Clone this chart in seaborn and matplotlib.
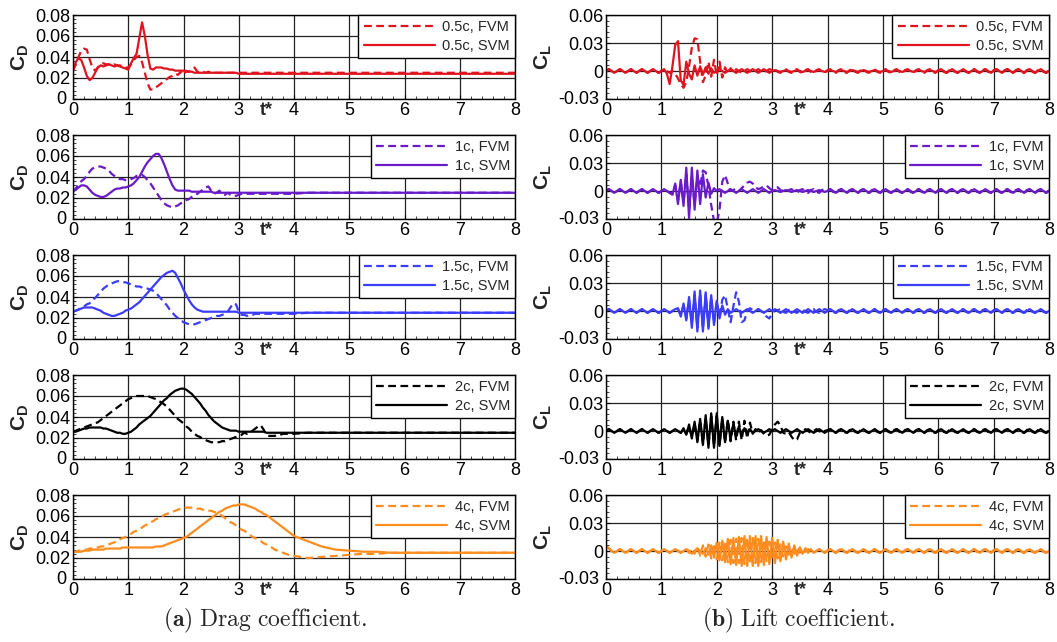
import numpy as np
import matplotlib
matplotlib.use("Agg")
import matplotlib.pyplot as plt
from matplotlib.ticker import MultipleLocator
from matplotlib.transforms import ScaledTranslation
import seaborn as sns

# ---------------- data (values in units of 1e-3) ----------------
cases = ["0.5c", "1c", "1.5c", "2c", "4c"]
colors = ["#e0141e", "#6a1ac8", "#3c3cff", "#000000", "#ff8c1e"]
x_ticks = [0, 1, 2, 3, 4, 5, 6, 7, 8]
cd_ticks = [0, 0.02, 0.04, 0.06, 0.08]
cd_tick_labels = ["0", "0.02", "0.04", "0.06", "0.08"]
cl_ticks = [-0.03, 0, 0.03, 0.06]
cl_tick_labels = ["-0.03", "0", "0.03", "0.06"]

# drag sample times: 0..4 every 0.05, then 4.25..8 every 0.25
t_drag = np.concatenate([np.arange(81) * 0.05, 4.0 + np.arange(1, 17) * 0.25])
# lift sample times: 0..8 every 0.05
t_lift = np.arange(161) * 0.05

cd_svm_05 = [27,35,39,37,30,22,18,20,25,30,32,31,32,33,32,31,32,31,30,29,
             28,34,39,43,58,73,60,42,29,28,30,30,30,29,29,28,28,27,27,27,
             27,26,26,26,25,25,25,25,25,25,25,25,25,25,25,25,25,25,25,25,
             24,24,24,24,24,24,24,24,24,24,24,24,24,24,24,24,24,24,24,24,
             24,
             24,24,24,24,24,24,24,24,24,24,24,24,24,24,24,24]
cd_fvm_05 = [27,33,40,46,48,47,38,30,27,30,33,34,33,33,32,33,32,32,31,30,
             30,33,37,40,41,35,25,15,9,9,11,13,15,17,19,21,22,24,23,26,
             23,27,26,29,30,26,25,26,25,26,25,25,25,25,25,25,25,25,25,25,
             25,25,25,25,25,25,25,25,25,25,25,25,25,25,25,25,25,25,25,25,
             25,
             25,25,25,25,25,25,25,25,25,25,25,25,25,25,25,25]
cd_svm_1 = [26,28,30,32,32,31,28,25,23,22,21,21,22,24,26,28,29,29,30,30,
            31,32,34,37,40,45,50,54,57,60,62,62,58,52,45,38,32,28,27,27,
            27,27,27,26,26,26,26,26,26,26,26,25,25,25,25,25,25,25,25,25,
            25,25,25,25,25,25,25,25,25,25,25,25,25,25,25,25,25,25,25,25,
            25,
            25,25,25,25,25,25,25,25,25,25,25,25,25,25,25,25]
cd_fvm_1 = [26,29,33,36,38,41,45,48,49,50,50,49,48,46,43,41,39,38,38,37,
            37,38,39,41,42,42,40,37,34,30,26,22,18,15,13,12,11,12,13,15,
            16,18,19,21,22,24,26,28,30,31,27,24,25,27,24,23,25,23,22,22,
            23,24,24,24,24,24,24,24,24,24,24,24,24,24,24,24,24,24,24,24,
            24,
            25,25,25,25,25,25,25,25,25,25,25,25,25,25,25,25]
cd_svm_15 = [26,27,28,29,30,30,30,30,29,28,27,25,24,23,22,22,23,24,25,27,
             28,29,31,33,35,38,41,44,47,50,53,56,59,61,63,64,65,63,58,53,
             47,42,37,33,30,28,27,26,26,26,26,26,26,26,26,26,26,26,26,26,
             25,25,25,25,25,25,25,25,25,25,25,25,25,25,25,25,25,25,25,25,
             25,
             25,25,25,25,25,25,25,25,25,25,25,25,25,25,25,25]
cd_fvm_15 = [26,27,28,30,31,33,34,37,39,42,45,48,50,52,53,54,55,55,54,54,
             53,52,51,50,50,49,48,48,47,46,44,41,38,35,32,28,25,22,20,18,
             16,15,14,14,14,15,16,17,18,19,20,21,22,22,23,24,26,30,34,33,
             26,23,23,22,23,23,24,24,24,24,24,24,24,24,24,24,24,24,24,24,
             24,
             25,25,25,25,25,25,25,25,25,25,25,25,25,25,25,25]
cd_svm_2 = [26,26,27,28,29,29,30,30,30,30,30,29,29,28,27,26,25,25,24,24,
            25,26,28,30,33,35,37,39,41,44,47,50,53,56,58,61,63,65,66,67,
            67,66,64,62,59,56,53,49,46,42,39,36,34,32,30,29,28,27,27,27,
            26,26,26,26,26,26,26,26,26,26,25,25,25,25,25,25,25,25,25,25,
            25,
            25,25,25,25,25,25,25,25,25,25,25,25,25,25,25,25]
cd_fvm_2 = [26,27,28,29,30,31,32,33,34,35,37,39,41,43,45,47,49,51,53,55,
            57,58,59,60,60,60,60,60,59,58,57,55,54,52,50,47,44,41,38,36,
            34,31,29,26,24,22,21,19,18,17,16,16,16,16,17,17,18,19,20,21,
            22,23,25,24,25,27,29,31,32,28,23,22,22,22,23,23,24,24,24,24,
            24,
            25,25,25,25,25,25,25,25,25,25,25,25,25,25,25,25]
cd_svm_4 = [26,26,26,26,27,27,27,28,28,28,28,28,29,29,29,29,29,29,30,30,
            30,30,30,30,30,30,30,30,30,30,31,31,31,32,33,34,35,36,37,38,
            39,40,42,44,46,48,50,52,54,56,58,60,62,64,65,67,68,69,70,70,
            71,71,71,70,69,68,67,65,64,62,61,59,57,55,53,51,49,47,45,43,
            41,
            36,31,28,27,26,26,25,25,25,25,25,25,25,25,25,25]
cd_fvm_4 = [26,26,27,27,28,28,29,29,30,30,31,31,32,33,34,35,36,38,39,40,
            42,43,45,46,48,49,51,52,54,55,57,58,59,61,62,63,64,65,66,67,
            67,68,68,68,68,67,67,66,66,65,65,64,63,62,60,58,56,54,53,51,
            49,47,46,44,42,40,39,37,36,34,33,31,30,28,27,26,25,24,23,22,
            22,
            20,21,22,23,24,24,25,25,25,25,25,25,25,25,25,25]

cl_svm_05 = [-1,2,0,-2,0,2,0,-2,0,2,0,-2,0,2,0,-2,0,2,0,-2,
             0,2,-3,-14,5,28,32,-10,-15,10,-3,-9,6,-5,5,-4,4,-3,3,-2,
             0,2,0,-2,0,2,0,-2,0,2,0,-2,0,2,0,-2,0,2,0,-2,
             0,1,0,-1,0,1,0,-1,0,1,0,-1,0,1,0,-1,0,1,0,-1,
             0,1,0,-1,0,1,0,-1,0,1,0,-1,0,1,0,-1,0,1,0,-1,
             0,1,0,-1,0,1,0,-1,0,1,0,-1,0,1,0,-1,0,1,0,-1,
             0,2,0,-2,0,2,0,-2,0,2,0,-2,0,2,0,-2,0,2,0,-2,
             0,2,0,-2,0,2,0,-2,0,2,0,-2,0,2,0,-2,0,2,0,-2,
             0]
cl_fvm_05 = [0,2,0,-2,0,2,0,-2,0,2,0,-2,0,2,0,-2,0,2,0,-2,
             0,2,0,-2,0,-3,-8,-14,-18,-12,5,25,35,34,10,-12,-5,10,-6,12,
             -5,10,-7,4,-3,3,-2,2,0,-2,0,2,0,-2,0,2,0,-2,0,2,
             1,2,-1,-2,1,2,-1,-2,1,2,-1,-2,1,2,-1,-2,1,2,-1,-2,
             1,2,-1,-2,1,2,-1,-2,1,2,-1,-2,1,2,-1,-2,1,2,-1,-2,
             1,2,-1,-2,1,2,-1,-2,1,2,-1,-2,1,2,-1,-2,1,2,-1,-2,
             1,2,-1,-2,1,2,-1,-2,1,2,-1,-2,1,2,-1,-2,1,2,-1,-2,
             1,2,-1,-2,1,2,-1,-2,1,2,-1,-2,1,2,-1,-2,1,2,-1,-2,
             1]
cl_svm_1 = [0,2,0,-2,0,2,0,-2,0,2,0,-2,0,2,0,-2,0,2,0,-2,
            0,2,0,-2,-4,8,-14,12,-16,25,-29,25,-20,22,-14,18,-7,9,-3,3,
            0,2,0,-2,0,2,0,-2,0,2,0,-2,0,2,0,-2,0,2,0,-2,
            0,1,0,-1,0,1,0,-1,0,1,0,-1,0,1,0,-1,0,1,0,-1,
            0,2,0,-2,0,2,0,-2,0,2,0,-2,0,2,0,-2,0,2,0,-2,
            0,2,0,-2,0,2,0,-2,0,2,0,-2,0,2,0,-2,0,2,0,-2,
            0,2,0,-2,0,2,0,-2,0,2,0,-2,0,2,0,-2,0,2,0,-2,
            0,2,0,-2,0,2,0,-2,0,2,0,-2,0,2,0,-2,0,2,0,-2,
            0]
cl_fvm_1 = [0,2,0,-2,0,2,0,-2,0,2,0,-2,0,2,0,-2,0,2,0,-2,
            0,2,0,-2,-3,6,-10,10,-12,18,-20,15,-14,15,5,22,20,5,-15,-32,
            -35,-20,10,17,8,0,1,3,0,3,6,9,10,8,4,2,3,5,6,3,
            1,2,4,1,0,-1,1,2,-1,-2,1,2,-1,-2,1,2,-1,-2,1,2,
            1,2,-1,-2,1,2,-1,-2,1,2,-1,-2,1,2,-1,-2,1,2,-1,-2,
            1,2,-1,-2,1,2,-1,-2,1,2,-1,-2,1,2,-1,-2,1,2,-1,-2,
            1,2,-1,-2,1,2,-1,-2,1,2,-1,-2,1,2,-1,-2,1,2,-1,-2,
            1,2,-1,-2,1,2,-1,-2,1,2,-1,-2,1,2,-1,-2,1,2,-1,-2,
            1]
cl_svm_15 = [0,2,0,-2,0,2,0,-2,0,2,0,-2,0,2,0,-2,0,2,0,-2,
             0,2,0,-2,0,2,3,-6,8,-10,15,-18,21,-22,22,-22,20,-19,17,-15,
             11,-8,6,-4,2,-2,0,2,0,-2,0,2,0,-2,0,2,0,-2,0,2,
             0,2,0,-2,0,2,0,-2,0,2,0,-2,0,2,0,-2,0,2,0,-2,
             0,2,0,-2,0,2,0,-2,0,2,0,-2,0,2,0,-2,0,2,0,-2,
             0,2,0,-2,0,2,0,-2,0,2,0,-2,0,2,0,-2,0,2,0,-2,
             0,2,0,-2,0,2,0,-2,0,2,0,-2,0,2,0,-2,0,2,0,-2,
             0,2,0,-2,0,2,0,-2,0,2,0,-2,0,2,0,-2,0,2,0,-2,
             0]
cl_fvm_15 = [0,2,0,-2,0,2,0,-2,0,2,0,-2,0,2,0,-2,0,2,0,-2,
             0,2,0,-2,0,2,2,-4,6,-8,12,-14,17,-18,19,-19,18,-17,15,-13,
             10,-6,12,17,2,-12,5,20,10,-12,-10,0,3,1,0,2,0,-3,-6,-8,
             -3,1,1,2,-1,-2,1,2,-1,-2,1,2,-1,-2,1,2,-1,-2,1,2,
             1,2,-1,-2,1,2,-1,-2,1,2,-1,-2,1,2,-1,-2,1,2,-1,-2,
             1,2,-1,-2,1,2,-1,-2,1,2,-1,-2,1,2,-1,-2,1,2,-1,-2,
             1,2,-1,-2,1,2,-1,-2,1,2,-1,-2,1,2,-1,-2,1,2,-1,-2,
             1,2,-1,-2,1,2,-1,-2,1,2,-1,-2,1,2,-1,-2,1,2,-1,-2,
             1]
cl_svm_2 = [0,2,0,-2,0,2,0,-2,0,2,0,-2,0,2,0,-2,0,2,0,-2,
            0,2,0,-2,0,2,0,-2,3,-4,7,-8,10,-12,13,-15,17,-18,19,-18,
            19,-16,15,-12,11,-9,8,-6,5,-4,3,-2,2,-2,0,2,0,-2,0,2,
            0,2,0,-2,0,2,0,-2,0,2,0,-2,0,2,0,-2,0,2,0,-2,
            0,2,0,-2,0,2,0,-2,0,2,0,-2,0,2,0,-2,0,2,0,-2,
            0,2,0,-2,0,2,0,-2,0,2,0,-2,0,2,0,-2,0,2,0,-2,
            0,2,0,-2,0,2,0,-2,0,2,0,-2,0,2,0,-2,0,2,0,-2,
            0,2,0,-2,0,2,0,-2,0,2,0,-2,0,2,0,-2,0,2,0,-2,
            0]
cl_fvm_2 = [0,2,0,-2,0,2,0,-2,0,2,0,-2,0,2,0,-2,0,2,0,-2,
            0,2,0,-2,0,2,0,-2,2,-3,5,-6,8,-10,11,-13,14,-15,16,-16,
            16,-15,14,-12,12,-11,10,-10,10,-10,11,-8,9,-3,2,-2,1,-3,-5,-4,
            2,7,10,6,-2,-3,-1,-6,-10,-9,-2,0,2,0,-2,0,2,0,-2,0,
            1,2,-1,-2,1,2,-1,-2,1,2,-1,-2,1,2,-1,-2,1,2,-1,-2,
            1,2,-1,-2,1,2,-1,-2,1,2,-1,-2,1,2,-1,-2,1,2,-1,-2,
            1,2,-1,-2,1,2,-1,-2,1,2,-1,-2,1,2,-1,-2,1,2,-1,-2,
            1,2,-1,-2,1,2,-1,-2,1,2,-1,-2,1,2,-1,-2,1,2,-1,-2,
            1]
cl_svm_4 = [5,3,0,-2,0,2,0,-2,0,2,0,-2,0,2,0,-2,0,2,0,-2,
            0,2,0,-2,0,2,0,-2,0,2,0,-3,0,3,0,-3,3,-4,6,-7,
            9,-10,11,-12,13,-14,14,-15,15,-16,16,-16,16,-16,16,-16,16,-15,15,-14,
            14,-13,12,-11,10,-9,8,-7,6,-5,4,-3,3,-2,2,-2,0,2,0,-2,
            0,2,0,-2,0,2,0,-2,0,2,0,-2,0,2,0,-2,0,2,0,-2,
            0,2,0,-2,0,2,0,-2,0,2,0,-2,0,2,0,-2,0,2,0,-2,
            0,2,0,-2,0,2,0,-2,0,2,0,-2,0,2,0,-2,0,2,0,-2,
            0,2,0,-2,0,2,0,-2,0,2,0,-2,0,2,0,-2,0,2,0,-2,
            0]
cl_fvm_4 = [5,3,0,-2,0,2,0,-2,0,2,0,-2,0,2,0,-2,0,2,0,-2,
            0,2,0,-2,0,2,0,-2,0,2,-2,3,-3,4,-5,6,-6,7,-8,8,
            -9,10,-10,11,-12,12,-13,13,-13,14,-14,14,-14,14,-13,13,-12,12,-11,10,
            -9,9,-8,7,-6,5,-4,4,-3,3,-2,2,-1,2,0,-2,0,2,0,-2,
            1,2,-1,-2,1,2,-1,-2,1,2,-1,-2,1,2,-1,-2,1,2,-1,-2,
            1,2,-1,-2,1,2,-1,-2,1,2,-1,-2,1,2,-1,-2,1,2,-1,-2,
            1,2,-1,-2,1,2,-1,-2,1,2,-1,-2,1,2,-1,-2,1,2,-1,-2,
            1,2,-1,-2,1,2,-1,-2,1,2,-1,-2,1,2,-1,-2,1,2,-1,-2,
            1]

drag_svm = [cd_svm_05, cd_svm_1, cd_svm_15, cd_svm_2, cd_svm_4]
drag_fvm = [cd_fvm_05, cd_fvm_1, cd_fvm_15, cd_fvm_2, cd_fvm_4]
lift_svm = [cl_svm_05, cl_svm_1, cl_svm_15, cl_svm_2, cl_svm_4]
lift_fvm = [cl_fvm_05, cl_fvm_1, cl_fvm_15, cl_fvm_2, cl_fvm_4]

# ---------------- style ----------------
sns.set_style("ticks")
plt.rcParams["font.family"] = ["Liberation Sans", "DejaVu Sans"]
plt.rcParams["mathtext.fontset"] = "custom"
plt.rcParams["mathtext.bf"] = "Liberation Sans:bold"
plt.rcParams["mathtext.rm"] = "Liberation Sans"
plt.rcParams["mathtext.it"] = "Liberation Sans:italic"

W, H = 1057, 642
fig = plt.figure(figsize=(W / 100, H / 100), dpi=100)

col_left = [73, 606]
col_width = [442, 443]
row_top = [15, 135, 255, 375, 495]
ax_h = 84
dash = (0, (3.5, 2.0))


def style_axes(ax, kind):
    ax.set_xlim(0, 8)
    ax.set_xticks(x_ticks)
    ax.set_xticklabels([str(v) for v in x_ticks])
    if kind == "drag":
        ax.set_ylim(0, 0.08)
        ax.set_yticks(cd_ticks)
        ax.set_yticklabels(cd_tick_labels)
        ax.yaxis.set_minor_locator(MultipleLocator(0.004))
        ax.set_ylabel(r"$\mathbf{C_D}$", fontsize=15, labelpad=3)
    else:
        ax.set_ylim(-0.03, 0.06)
        ax.set_yticks(cl_ticks)
        ax.set_yticklabels(cl_tick_labels)
        ax.yaxis.set_minor_locator(MultipleLocator(0.006))
        ax.set_ylabel(r"$\mathbf{C_L}$", fontsize=15, labelpad=3)
    ax.xaxis.set_minor_locator(MultipleLocator(0.2))
    ax.grid(True, which="major", color="#222222", lw=0.9)
    ax.set_axisbelow(True)
    ax.tick_params(which="major", direction="in", length=3, width=0.8,
                   labelsize=13, pad=2, colors="black")
    ax.tick_params(which="minor", direction="in", length=2, width=0.6,
                   top=False, right=False)
    for s in ax.spines.values():
        s.set_linewidth(1.0)
        s.set_color("black")
    ax.set_xlabel("t*", fontsize=13, fontweight="bold")
    ax.xaxis.set_label_coords(3.5 / 8, -0.035)
    # nudge the lowest y tick label left so it clears the x "0"
    low = ax.get_yticklabels()[0]
    low.set_transform(low.get_transform()
                      + ScaledTranslation(-4 / 100, 1 / 100, fig.dpi_scale_trans))


for i, case in enumerate(cases):
    for j, kind in enumerate(["drag", "lift"]):
        left = col_left[j] / W
        bottom = 1 - (row_top[i] + ax_h) / H
        ax = fig.add_axes([left, bottom, col_width[j] / W, ax_h / H])
        if kind == "drag":
            t = t_drag
            svm, fvm = drag_svm[i], drag_fvm[i]
        else:
            t = t_lift
            svm, fvm = lift_svm[i], lift_fvm[i]
        sns.lineplot(x=t, y=np.asarray(svm) * 1e-3, ax=ax, color=colors[i],
                     lw=1.6, estimator=None, sort=False, label=f"{case}, SVM")
        sns.lineplot(x=t, y=np.asarray(fvm) * 1e-3, ax=ax, color=colors[i],
                     lw=1.6, linestyle=dash, estimator=None, sort=False,
                     label=f"{case}, FVM")
        style_axes(ax, kind)
        h, l = ax.get_legend_handles_labels()
        leg = ax.legend([h[1], h[0]], [l[1], l[0]], loc="upper right",
                        bbox_to_anchor=(1, 1), borderaxespad=0, frameon=True,
                        fancybox=False, edgecolor="black", framealpha=1,
                        fontsize=10.5, handlelength=4.9, handletextpad=0.5,
                        borderpad=0.35, labelspacing=0.35)
        leg.get_frame().set_linewidth(1.0)

fig.text(265 / W, 1 - 620 / H, r"$\mathbf{(a)}\ \mathrm{Drag\ coefficient.}$",
         ha="center", va="center", fontsize=17, math_fontfamily="cm")
fig.text(799 / W, 1 - 620 / H, r"$\mathbf{(b)}\ \mathrm{Lift\ coefficient.}$",
         ha="center", va="center", fontsize=17, math_fontfamily="cm")

fig.savefig("out.png", dpi=100)
